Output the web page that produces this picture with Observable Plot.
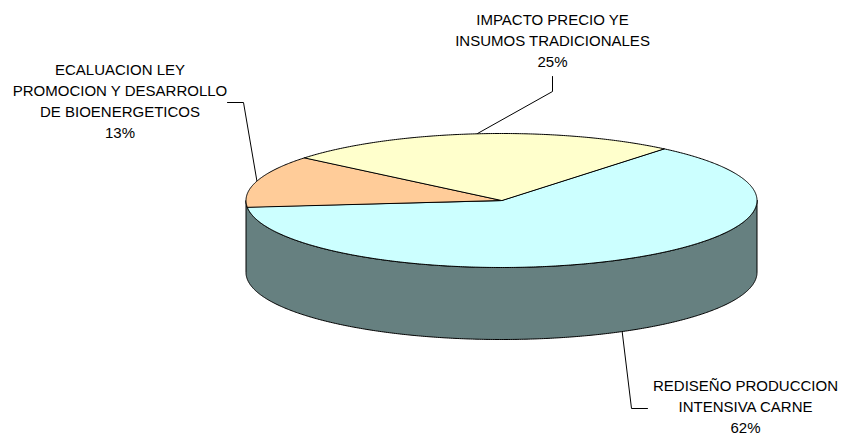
<!DOCTYPE html>
<html>
<head>
<meta charset="utf-8">
<script src="https://cdn.jsdelivr.net/npm/d3@7"></script>
<script src="https://cdn.jsdelivr.net/npm/@observablehq/plot@0.6"></script>
<style>
html,body{margin:0;padding:0;background:#fff}
svg{display:block}
</style>
</head>
<body>
<div id="chart"></div>
<script>
// Data, clockwise from the start angle
const categories = ["REDISEÑO PRODUCCION\nINTENSIVA CARNE", "ECALUACION LEY\nPROMOCION Y DESARROLLO\nDE BIOENERGETICOS", "IMPACTO PRECIO YE\nINSUMOS TRADICIONALES"];
const shares = [62.4, 12.6, 25.0];
const percentLabels = ["62%", "13%", "25%"];

// Styles
const sliceColors = ["#CCFFFF", "#FFCC99", "#FFFFCC"];
const wallColor = "#668080";

// Layout
const W = 843, H = 435;
const cx = 501, cy = 200, rx = 255.5, ry = 67, depth = 72;
const startDeg = 39.5;
const rad = d => d * Math.PI / 180;
const rim = (deg, dy = 0) => ({x: cx + rx * Math.sin(rad(deg)), y: cy + dy - ry * Math.cos(rad(deg))});

const pie = d3.pie().sort(null).value(d => d).startAngle(rad(startDeg)).endAngle(rad(startDeg + 360))(shares);

function arcPoints(a0, a1, dy = 0) {
  const n = Math.max(2, Math.ceil(Math.abs(a1 - a0) * 2));
  return d3.range(n + 1).map(i => rim(a0 + (a1 - a0) * i / n, dy));
}

const toDeg = r => r * 180 / Math.PI;
const slices = pie.map(s => [{x: cx, y: cy}, ...arcPoints(toDeg(s.startAngle), toDeg(s.endAngle))]);
const wall = [...arcPoints(90, 270), ...arcPoints(270, 90, depth)];

// Leader elbows and label centres, in chart space
const labelPlacement = [
  {bend: [[631, 408], [647, 408]], tx: 745, ty: 405, wallAnchor: true},
  {bend: [[243, 102], [227, 102]], tx: 119.5, ty: 99.5, wallAnchor: false},
  {bend: [[552, 91], [552, 76]], tx: 552, ty: 39, wallAnchor: false}
];

const leaders = pie.map((s, i) => {
  const mid = toDeg((s.startAngle + s.endAngle) / 2);
  const a = rim(mid, labelPlacement[i].wallAnchor ? depth : 0);
  return [a, ...labelPlacement[i].bend.map(([x, y]) => ({x, y}))];
});

const labels = categories.map((c, i) => ({
  text: c + "\n" + percentLabels[i],
  x: labelPlacement[i].tx,
  y: labelPlacement[i].ty
}));

const polygon = (pts, fill) => Plot.line(pts, {x: "x", y: "y", fill, stroke: "#000", strokeWidth: 1, curve: "linear-closed"});

const chart = Plot.plot({
  width: W, height: H,
  margin: 0,
  x: {domain: [0, W], range: [0, W], axis: null},
  y: {domain: [0, H], range: [0, H], axis: null},
  style: {background: "#fff"},
  marks: [
    ...leaders.map(l => Plot.line(l, {x: "x", y: "y", stroke: "#000", strokeWidth: 1, curve: "linear"})),
    polygon(wall, wallColor),
    ...slices.map((s, i) => polygon(s, sliceColors[i])),
    Plot.text(labels, {
      x: "x", y: "y", text: "text",
      fontFamily: "Liberation Sans, Arial, sans-serif",
      fontSize: 15, lineHeight: 1.4, fill: "#000", textAnchor: "middle"
    })
  ]
});
document.getElementById("chart").append(chart);
</script>
</body>
</html>
